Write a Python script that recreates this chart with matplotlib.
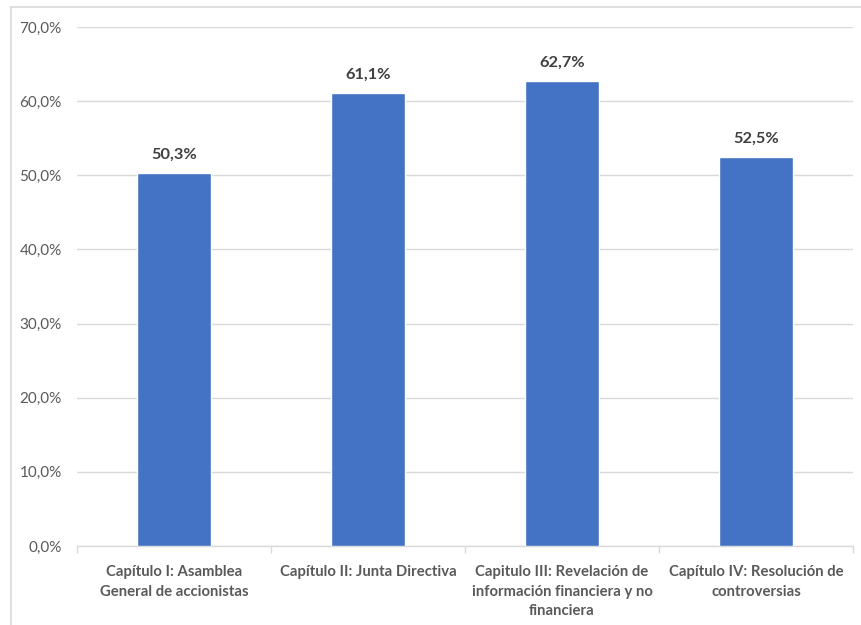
import matplotlib
matplotlib.use("Agg")
import matplotlib.pyplot as plt
from matplotlib.lines import Line2D
from matplotlib.ticker import FuncFormatter, FixedLocator

categories = [
    "Capítulo I: Asamblea\nGeneral de accionistas",
    "Capítulo II: Junta Directiva",
    "Capitulo III: Revelación de\ninformación financiera y no\nfinanciera",
    "Capítulo IV: Resolución de\ncontroversias",
]
values = [50.3, 61.1, 62.7, 52.5]
value_labels = ["50,3%", "61,1%", "62,7%", "52,5%"]
yticks = [0, 10, 20, 30, 40, 50, 60, 70]

plt.rcParams['font.family'] = ['Lato', 'DejaVu Sans']

fig = plt.figure(figsize=(8.62, 6.25), dpi=100)
ax = fig.add_axes([77/862, 1-546/625, (853-77)/862, (546-27)/625])

x = list(range(len(categories)))
ax.bar(x, values, width=0.38, color="#4472C4", edgecolor="white", linewidth=1.0, zorder=3)

for xi, v, lab in zip(x, values, value_labels):
    ax.annotate(lab, (xi, v), xytext=(0, 8), textcoords="offset points",
                ha="center", va="bottom", fontsize=11.8, fontweight="bold", color="#404040")

ax.set_xlim(-0.5, len(categories) - 0.5)
ax.set_ylim(0, 70)
ax.yaxis.set_major_locator(FixedLocator(yticks))
ax.yaxis.set_major_formatter(FuncFormatter(lambda v, p: f"{v:.1f}%".replace(".", ",")))
ax.grid(axis="y", color="#D9D9D9", linewidth=1.0, zorder=0)
ax.tick_params(axis="y", length=0, labelsize=11, labelcolor="#595959", pad=11)

ax.set_xticks([i - 0.5 for i in range(len(categories) + 1)])
ax.set_xticklabels([])
ax.set_xticks(x, minor=True)
ax.set_xticklabels(categories, minor=True, fontsize=10.7, fontweight="bold", color="#595959", linespacing=1.5)
ax.tick_params(axis="x", which="major", length=5, color="#D9D9D9", width=1)
ax.tick_params(axis="x", which="minor", length=0, pad=14)

for s in ["top", "right", "left"]:
    ax.spines[s].set_visible(False)
ax.spines["bottom"].set_color("#D9D9D9")
ax.spines["bottom"].set_linewidth(1.0)

# outer chart border (left and top visible)
fig.add_artist(Line2D([11/862, 11/862], [0, 1-7/625], transform=fig.transFigure, color="#D9D9D9", linewidth=1.2))
fig.add_artist(Line2D([11/862, 1], [1-7/625, 1-7/625], transform=fig.transFigure, color="#D9D9D9", linewidth=1.2))

fig.savefig("out.png", dpi=100, facecolor="white")
